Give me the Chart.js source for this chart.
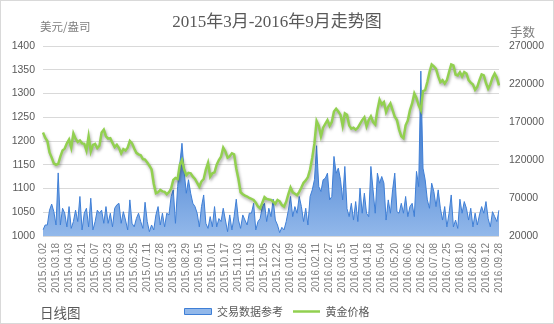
<!DOCTYPE html>
<html>
<head>
<meta charset="utf-8">
<script src="https://cdn.jsdelivr.net/npm/chart.js@4.4.1/dist/chart.umd.min.js"></script>
<style>
  html, body { margin: 0; padding: 0; background: #fff; }
</style>
</head>
<body>
<canvas id="goldChart" width="554" height="324"></canvas>
<script>
// 日线: one x tick every STEP trading samples
const STEP = 6;
const tickDates = [
  '2015.03.02', '2015.03.18', '2015.04.03', '2015.04.21', '2015.05.07', '2015.05.23',
  '2015.06.09', '2015.06.25', '2015.07.11', '2015.07.28', '2015.08.13', '2015.08.29',
  '2015.09.15', '2015.10.01', '2015.10.17', '2015.11.03', '2015.11.19', '2015.12.05',
  '2015.12.22', '2016.01.09', '2016.01.26', '2016.02.11', '2016.02.27', '2016.03.15',
  '2016.04.01', '2016.04.18', '2016.05.04', '2016.05.20', '2016.06.06', '2016.06.22',
  '2016.07.08', '2016.07.25', '2016.08.10', '2016.08.26', '2016.09.12', '2016.09.28'
];

// 黄金价格 (美元/盎司)
const goldPrice = [
  1218, 1207, 1200, 1176, 1165, 1153, 1150, 1152, 1167, 1180,
  1184, 1195, 1203, 1186, 1216, 1205, 1198, 1201, 1195, 1194,
  1180, 1210, 1178, 1192, 1194, 1185, 1190, 1218, 1224, 1210,
  1205, 1206, 1196, 1187, 1192, 1185, 1174, 1183, 1180, 1186,
  1200, 1195, 1184, 1175, 1172, 1170, 1162, 1161, 1155, 1148,
  1140, 1110, 1090, 1092, 1097, 1094, 1093, 1088, 1092, 1100,
  1118, 1122, 1120, 1150, 1160, 1140, 1128, 1133, 1132, 1125,
  1120, 1112, 1104, 1115, 1120, 1140, 1154, 1125, 1132, 1134,
  1150, 1160, 1167, 1186, 1178, 1165, 1168, 1174, 1172, 1142,
  1120, 1092, 1088, 1085, 1083, 1080, 1078, 1076, 1070, 1062,
  1058, 1070, 1082, 1078, 1077, 1076, 1072, 1068, 1076, 1073,
  1065, 1062, 1072, 1088, 1102, 1092, 1089, 1086, 1093, 1102,
  1112, 1117, 1124, 1140, 1165, 1195, 1242, 1232, 1210, 1228,
  1236, 1244, 1232, 1240, 1262, 1268, 1262, 1255, 1232, 1258,
  1255, 1233, 1226, 1228, 1224, 1228, 1236, 1244, 1250, 1231,
  1244, 1252, 1240, 1235, 1265, 1287, 1277, 1282, 1261, 1272,
  1279, 1265, 1251, 1244, 1224, 1210, 1206, 1233, 1243, 1265,
  1279, 1300, 1290, 1275, 1265, 1305, 1307, 1324, 1345, 1361,
  1357, 1352, 1336, 1324, 1328, 1321, 1328, 1345, 1361, 1359,
  1340, 1338, 1345, 1336, 1345, 1342, 1328, 1323, 1319, 1308,
  1314, 1328, 1340, 1338, 1322, 1310, 1319, 1333, 1342, 1333,
  1317
];

// 交易数据参考 (手数)
const volume = [
  28000, 34500, 34500, 54000, 62000, 52000, 34500, 103000, 34500, 56500,
  50000, 32000, 58700, 30000, 39000, 54000, 39000, 72000, 28000, 50000,
  56500, 32000, 69700, 28000, 39000, 54000, 50000, 54000, 36700, 58700,
  36700, 50000, 32000, 56500, 61000, 63000, 36700, 52000, 41000, 28000,
  67500, 36700, 32000, 43000, 50000, 39000, 30000, 64400, 39000, 25700,
  34500, 28000, 47700, 58700, 34500, 50000, 32000, 50000, 47700, 72000,
  80700, 36700, 85000, 115000, 142000, 105000, 76300, 94000, 76300, 63000,
  58700, 50000, 32000, 58700, 74000, 36700, 30000, 45500, 32000, 58700,
  32000, 43000, 39000, 56500, 41000, 25700, 47700, 28000, 45500, 68400,
  41000, 30000, 47700, 41000, 34500, 50000, 50000, 63000, 28000, 39000,
  43000, 58700, 63000, 39000, 56500, 45500, 68400, 41000, 34500, 24400,
  31400, 28000, 39000, 54000, 72000, 45500, 58700, 50000, 72000, 58700,
  39000, 56500, 34500, 72000, 80700, 94000, 138800, 85000, 78500, 94000,
  96000, 102700, 67500, 72000, 124700, 102700, 109300, 94000, 67500, 111500,
  56000, 45500, 63000, 41000, 65300, 39000, 83000, 50000, 76300, 50000,
  45500, 111500, 80700, 50000, 102700, 89500, 98300, 89500, 41000, 67500,
  50000, 80700, 102700, 52000, 50000, 63000, 50000, 72000, 45500, 58700,
  63000, 45500, 105000, 85000, 237000, 109300, 94000, 67500, 56500, 89500,
  78500, 58700, 80700, 56500, 41000, 58700, 32000, 50000, 74000, 32000,
  41000, 30000, 68400, 50000, 65300, 56500, 41000, 56500, 32000, 50000,
  34500, 47700, 58700, 50000, 65300, 43000, 32000, 52000, 45500, 39000,
  54000
];

const categories = goldPrice.map((_, i) => i);

const textColor = '#595959';
const gridColor = '#d9d9d9';
const volumeLine = '#3f7fd6';
const goldColor = '#92d050';

// soft drop shadow under the gold line, like the office chart style
const lineShadow = {
  id: 'lineShadow',
  beforeDatasetDraw(chart, args) {
    if (args.index !== 1) return;
    const ctx = chart.ctx;
    ctx.save();
    ctx.shadowColor = 'rgba(0, 0, 0, 0.35)';
    ctx.shadowBlur = 3;
    ctx.shadowOffsetX = 1;
    ctx.shadowOffsetY = 2;
  },
  afterDatasetDraw(chart, args) {
    if (args.index !== 1) return;
    chart.ctx.restore();
  }
};

// axis units, footer note and the frame around the chart
const chartNotes = {
  id: 'chartNotes',
  afterDraw(chart) {
    const ctx = chart.ctx;
    ctx.save();
    ctx.fillStyle = '#7f7f7f';
    ctx.textBaseline = 'middle';
    ctx.textAlign = 'left';
    ctx.font = '11.5px "Noto Sans CJK SC"';
    ctx.fillText('美元/盎司', 40, 27);
    ctx.font = '12.5px "Noto Sans CJK SC"';
    ctx.fillText('手数', 510, 32);
    ctx.fillStyle = textColor;
    ctx.font = '13.5px "Noto Sans CJK SC"';
    ctx.fillText('日线图', 40, 313);
    ctx.strokeStyle = gridColor;
    ctx.lineWidth = 1;
    ctx.strokeRect(0.5, 0.5, chart.width - 1, chart.height - 1);
    ctx.restore();
  }
};

new Chart(document.getElementById('goldChart').getContext('2d'), {
  type: 'line',
  data: {
    labels: categories,
    datasets: [{
      label: '交易数据参考',
      data: volume,
      yAxisID: 'yVolume',
      borderColor: volumeLine,
      borderWidth: 1,
      backgroundColor(context) {
        const { ctx, chartArea } = context.chart;
        if (!chartArea) return '#6f9fe0';
        const g = ctx.createLinearGradient(0, chartArea.top, 0, chartArea.bottom);
        g.addColorStop(0, '#2f6cc4');
        g.addColorStop(0.6, '#5b8fd8');
        g.addColorStop(1, '#92b8ea');
        return g;
      },
      fill: 'start',
      pointRadius: 0,
      pointStyle: 'rect',
      tension: 0,
      order: 2
    }, {
      label: '黄金价格',
      data: goldPrice,
      yAxisID: 'yPrice',
      borderColor: goldColor,
      backgroundColor: goldColor,
      borderWidth: 2.5,
      fill: false,
      pointRadius: 0,
      pointStyle: 'line',
      tension: 0,
      order: 1
    }]
  },
  options: {
    responsive: false,
    animation: false,
    layout: { padding: { left: 0, right: 0, top: 0, bottom: -3 } },
    plugins: {
      title: {
        display: true,
        text: '2015年3月-2016年9月走势图',
        color: textColor,
        font: { family: '"Liberation Serif", "Noto Sans CJK SC"', size: 17, weight: 'normal', lineHeight: 1.2 },
        padding: { top: 12, bottom: 13.6 }
      },
      legend: {
        position: 'bottom',
        labels: {
          usePointStyle: true,
          pointStyleWidth: 27,
          boxHeight: 6,
          padding: 10,
          color: textColor,
          font: { family: '"Noto Sans CJK SC"', size: 11 },
          sort: (a, b) => a.datasetIndex - b.datasetIndex
        }
      },
      tooltip: { enabled: false }
    },
    scales: {
      x: {
        grid: { display: false, drawTicks: false },
        border: { display: false },
        afterFit(scale) { scale.height = 60; },
        ticks: {
          autoSkip: false,
          minRotation: 90,
          maxRotation: 90,
          padding: 7,
          color: '#808080',
          font: { family: '"Liberation Sans"', size: 10 },
          callback: (value, index) => index % STEP === 0 ? tickDates[index / STEP] : null
        }
      },
      yPrice: {
        position: 'left',
        min: 1000,
        max: 1400,
        afterFit(scale) { scale.width = 43; },
        grid: { color: gridColor, drawTicks: false },
        border: { display: false },
        ticks: {
          stepSize: 50,
          padding: 8,
          color: textColor,
          font: { family: '"Liberation Sans"', size: 10.5 },
          callback: value => String(value)
        }
      },
      yVolume: {
        position: 'right',
        min: 20000,
        max: 270000,
        afterFit(scale) { scale.width = 55; },
        grid: { display: false, drawTicks: false },
        border: { display: false },
        ticks: {
          stepSize: 50000,
          padding: 10,
          color: textColor,
          font: { family: '"Liberation Sans"', size: 10.5 },
          callback: value => String(value)
        }
      }
    }
  },
  plugins: [lineShadow, chartNotes]
});
</script>
</body>
</html>
